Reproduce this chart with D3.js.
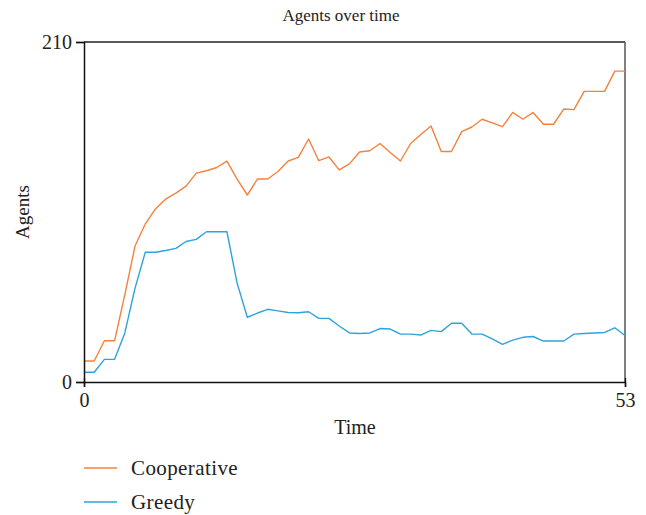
<!DOCTYPE html>
<html><head><meta charset="utf-8">
<script src="https://cdn.jsdelivr.net/npm/d3@7/dist/d3.min.js"></script>
<style>body{margin:0;background:#fff}svg{display:block}text{font-family:"Liberation Serif","DejaVu Serif",serif;fill:#222}</style>
</head><body><svg id="c" width="646" height="515"></svg>
<script>
const time = d3.range(0, 54);
const cooperative = [13,13,25.5,25.5,54,84,97.6,106.9,113,116.7,121,129,130.5,132.5,136.4,125.3,115.5,125.4,125.4,130,136.5,138.7,150.1,136.7,139,131,134.7,142.1,142.8,147.3,141.8,136.5,147.3,152.9,158.1,142.4,142.4,154.6,157.5,162.3,160,157.7,166.5,162.3,166.5,159.2,159.2,168.6,168.2,179.5,179.5,179.5,192,192];
const greedy = [6,6,14,14,30.3,58,80.1,80.1,81.2,82.5,86.8,88.1,92.8,92.8,92.8,61.1,40,42.6,44.9,43.9,42.9,42.8,43.4,39.3,39.3,34.6,30.3,30,30.3,33,32.7,29.6,29.6,29,31.9,31.1,36.3,36.3,29.6,29.6,26.6,23.3,25.9,27.6,28.1,25.3,25.3,25.3,29.6,30,30.3,30.6,33.5,28.7];
const seriesNames = ["Cooperative","Greedy"];
const seriesColors = ["#f4823f","#2ea3dc"];
const yTicks = [0,210];
const xTicks = [0,53];

const svg = d3.select("#c");
const L=84,R=625,T=42,B=382;
const x = d3.scaleLinear().domain([0,53]).range([L,R]);
const y = d3.scaleLinear().domain([0,210]).range([B,T]);

svg.append("line").attr("x1",L).attr("x2",R).attr("y1",T).attr("y2",T).attr("stroke","#222").attr("stroke-width",1.3);
svg.append("line").attr("x1",R).attr("x2",R).attr("y1",T).attr("y2",B).attr("stroke","#555").attr("stroke-width",1.5);

const lineGen = d3.line().x((d,i)=>x(time[i])).y(d=>y(d)).curve(d3.curveLinear);
[cooperative,greedy].forEach((s,k)=>{
  svg.append("path").datum(s).attr("d",lineGen).attr("fill","none")
    .attr("stroke",seriesColors[k]).attr("stroke-width",1.4).attr("stroke-linejoin","round");
});

const yAxis = svg.append("g").attr("transform",`translate(${L},0)`)
  .call(d3.axisLeft(y).tickValues(yTicks).tickSize(8).tickPadding(4).tickFormat(d3.format("d")));
const xAxis = svg.append("g").attr("transform",`translate(0,${B})`)
  .call(d3.axisBottom(x).tickValues(xTicks).tickSize(5).tickPadding(6).tickFormat(d3.format("d")));
[yAxis,xAxis].forEach(g=>{
  g.select(".domain").attr("stroke","#111").attr("stroke-width",1.5);
  g.selectAll(".tick line").attr("stroke","#111").attr("stroke-width",1.3);
  g.selectAll(".tick text").attr("font-family","Liberation Serif").attr("font-size",20).attr("fill","#222");
});
xAxis.selectAll(".tick line").attr("y1",-4);

svg.append("text").attr("x",341).attr("y",21).attr("text-anchor","middle").attr("font-size",17).text("Agents over time");
svg.append("text").attr("x",355).attr("y",434).attr("text-anchor","middle").attr("font-size",20).text("Time");
svg.append("text").attr("transform","translate(29,212) rotate(-90)").attr("text-anchor","middle").attr("font-size",19).text("Agents");

seriesNames.forEach((n,k)=>{
  const yy = 468 + k*34;
  svg.append("line").attr("x1",84).attr("x2",117).attr("y1",yy).attr("y2",yy).attr("stroke",seriesColors[k]).attr("stroke-width",1.4);
  svg.append("text").attr("x",131).attr("y",yy+7).attr("font-size",21).attr("letter-spacing",0.4).text(n);
});
</script></body></html>
